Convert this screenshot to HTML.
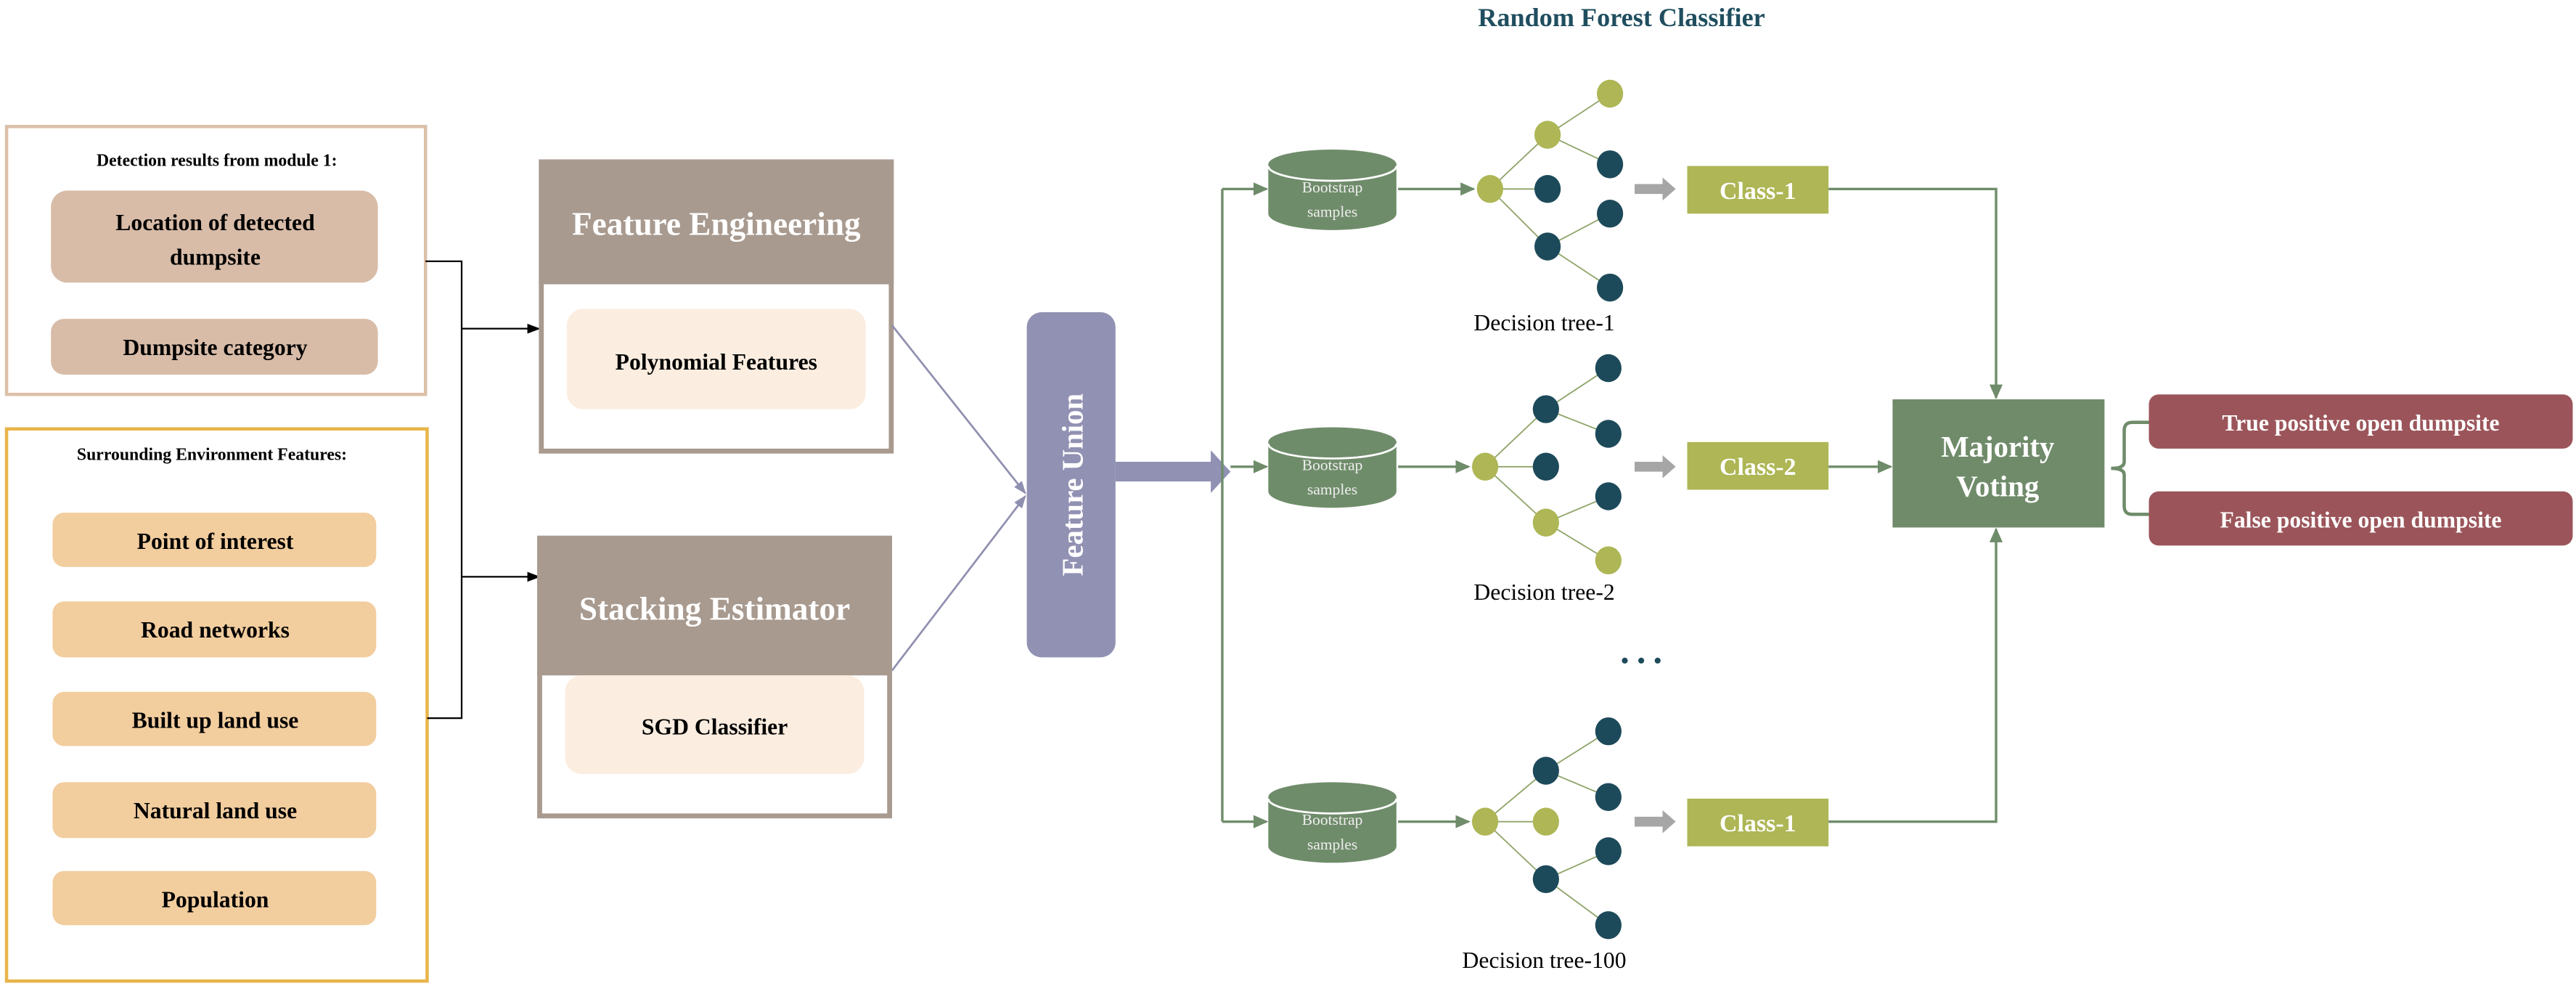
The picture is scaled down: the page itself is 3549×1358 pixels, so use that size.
<!DOCTYPE html>
<html><head><meta charset="utf-8"><style>
html,body{margin:0;padding:0;background:#fff;}
svg{display:block;}
text{font-family:"Liberation Serif",serif;font-weight:bold;}
text.n{font-weight:normal;}
</style></head><body>
<svg width="3549" height="1358" viewBox="0 0 1568 600" preserveAspectRatio="none" xmlns="http://www.w3.org/2000/svg">
<defs>
<marker id="ab" markerWidth="8" markerHeight="8" refX="7" refY="4" orient="auto" markerUnits="userSpaceOnUse"><path d="M0,1 L8,4 L0,7 Z" fill="#000"/></marker>
<marker id="ag" markerWidth="9" markerHeight="9" refX="8" refY="4.5" orient="auto" markerUnits="userSpaceOnUse"><path d="M0,0.5 L9,4.5 L0,8.5 Z" fill="#6f8c6a"/></marker>
<marker id="ap" markerWidth="8" markerHeight="8" refX="7" refY="4" orient="auto" markerUnits="userSpaceOnUse"><path d="M0,1 L8,4 L0,7 Z" fill="#8f8fb0"/></marker>
</defs>
<text x="987" y="16" text-anchor="middle" font-size="16" fill="#1f4e5f">Random Forest Classifier</text>

<rect x="4" y="77" width="255" height="163" fill="#fff" stroke="#dcc0a8" stroke-width="2"/>
<text x="132" y="101" text-anchor="middle" font-size="10.5" fill="#000">Detection results from module 1:</text>
<rect x="31" y="116" width="199" height="56" rx="10" fill="#d8bca8"/>
<text x="131" y="140" text-anchor="middle" font-size="14" fill="#000">Location of detected</text>
<text x="131" y="161" text-anchor="middle" font-size="14" fill="#000">dumpsite</text>
<rect x="31" y="194" width="199" height="34" rx="8" fill="#d8bca8"/>
<text x="131" y="216" text-anchor="middle" font-size="14" fill="#000">Dumpsite category</text>

<rect x="4" y="261" width="256" height="336" fill="#fff" stroke="#e8b54a" stroke-width="2"/>
<text x="129" y="280" text-anchor="middle" font-size="10.5" fill="#000">Surrounding Environment Features:</text>
<g font-size="14" fill="#000" text-anchor="middle">
<rect x="32" y="312" width="197" height="33" rx="7" fill="#f2cd9e"/><text x="131" y="334">Point of interest</text>
<rect x="32" y="366" width="197" height="34" rx="7" fill="#f2cd9e"/><text x="131" y="388">Road networks</text>
<rect x="32" y="421" width="197" height="33" rx="7" fill="#f2cd9e"/><text x="131" y="443">Built up land use</text>
<rect x="32" y="476" width="197" height="34" rx="7" fill="#f2cd9e"/><text x="131" y="498">Natural land  use</text>
<rect x="32" y="530" width="197" height="33" rx="7" fill="#f2cd9e"/><text x="131" y="552">Population</text>
</g>

<path d="M259,159 H281 V437 H260" fill="none" stroke="#000" stroke-width="1"/>
<line x1="281" y1="200" x2="328" y2="200" stroke="#000" stroke-width="1" marker-end="url(#ab)"/>
<line x1="281" y1="351" x2="328" y2="351" stroke="#000" stroke-width="1" marker-end="url(#ab)"/>

<rect x="329.5" y="98.5" width="213" height="176" fill="#fff" stroke="#a89a8f" stroke-width="3"/>
<rect x="328" y="97" width="216" height="76" fill="#a89a8f"/>
<text x="436" y="143" text-anchor="middle" font-size="20" fill="#fff">Feature Engineering</text>
<rect x="345" y="188" width="182" height="61" rx="10" fill="#fbede0"/>
<text x="436" y="225" text-anchor="middle" font-size="14" fill="#000">Polynomial Features</text>

<rect x="328.5" y="327.5" width="213" height="169" fill="#fff" stroke="#a89a8f" stroke-width="3"/>
<rect x="327" y="326" width="216" height="85" fill="#a89a8f"/>
<text x="435" y="377" text-anchor="middle" font-size="20" fill="#fff">Stacking Estimator</text>
<rect x="344" y="411" width="182" height="60" rx="10" fill="#fbede0"/>
<text x="435" y="447" text-anchor="middle" font-size="14" fill="#000">SGD Classifier</text>

<line x1="543" y1="198" x2="624" y2="300" stroke="#8f8fb0" stroke-width="1.2" marker-end="url(#ap)"/>
<line x1="543" y1="408" x2="624" y2="302" stroke="#8f8fb0" stroke-width="1.2" marker-end="url(#ap)"/>

<rect x="625" y="190" width="54" height="210" rx="9" fill="#9191b3"/>
<text x="0" y="0" transform="translate(659,295) rotate(-90)" text-anchor="middle" font-size="18" fill="#fff">Feature Union</text>
<path d="M679,281 H737 V274 L749,287 L737,300 V293 H679 Z" fill="#9191b3"/>

<g stroke="#6f8c6a" stroke-width="1.5" fill="none">
<path d="M744,115 V500"/>
<line x1="744" y1="115" x2="771" y2="115" marker-end="url(#ag)"/>
<line x1="749" y1="284" x2="771" y2="284" marker-end="url(#ag)"/>
<line x1="744" y1="500" x2="771" y2="500" marker-end="url(#ag)"/>
<line x1="851" y1="115" x2="897" y2="115" marker-end="url(#ag)"/>
<line x1="851" y1="284" x2="894" y2="284" marker-end="url(#ag)"/>
<line x1="851" y1="500" x2="894" y2="500" marker-end="url(#ag)"/>
<path d="M1113,115 H1215 V242" marker-end="url(#ag)"/>
<line x1="1113" y1="284" x2="1151" y2="284" marker-end="url(#ag)"/>
<path d="M1113,500 H1215 V322" marker-end="url(#ag)"/>
<path d="M1308,257 H1298 Q1293,257 1293,262 V281 Q1293,285 1285,285 Q1293,285 1293,289 V308 Q1293,313 1298,313 H1308" stroke-width="2"/>
</g>

<g>
<g>
<path d="M772,100 V130 A39,10 0 0 0 850,130 V100 Z" fill="#6f8c6a"/>
<ellipse cx="811" cy="100" rx="39" ry="9" fill="#6f8c6a"/>
<path d="M772,101 A39,9 0 0 0 850,101" fill="none" stroke="#fff" stroke-width="1.2"/>
<text class="n" x="811" y="117" text-anchor="middle" font-size="9.5" fill="#eee">Bootstrap</text>
<text class="n" x="811" y="132" text-anchor="middle" font-size="9.5" fill="#eee">samples</text>
</g>
<g transform="translate(0,169)">
<path d="M772,100 V130 A39,10 0 0 0 850,130 V100 Z" fill="#6f8c6a"/>
<ellipse cx="811" cy="100" rx="39" ry="9" fill="#6f8c6a"/>
<path d="M772,101 A39,9 0 0 0 850,101" fill="none" stroke="#fff" stroke-width="1.2"/>
<text class="n" x="811" y="117" text-anchor="middle" font-size="9.5" fill="#eee">Bootstrap</text>
<text class="n" x="811" y="132" text-anchor="middle" font-size="9.5" fill="#eee">samples</text>
</g>
<g transform="translate(0,385)">
<path d="M772,100 V130 A39,10 0 0 0 850,130 V100 Z" fill="#6f8c6a"/>
<ellipse cx="811" cy="100" rx="39" ry="9" fill="#6f8c6a"/>
<path d="M772,101 A39,9 0 0 0 850,101" fill="none" stroke="#fff" stroke-width="1.2"/>
<text class="n" x="811" y="117" text-anchor="middle" font-size="9.5" fill="#eee">Bootstrap</text>
<text class="n" x="811" y="132" text-anchor="middle" font-size="9.5" fill="#eee">samples</text>
</g>
</g>

<g stroke="#8fa46a" stroke-width="0.8">
<line x1="907" y1="115" x2="942" y2="82"/><line x1="907" y1="115" x2="942" y2="115"/><line x1="907" y1="115" x2="942" y2="150"/>
<line x1="942" y1="82" x2="980" y2="57"/><line x1="942" y1="82" x2="980" y2="100"/><line x1="942" y1="150" x2="980" y2="130"/><line x1="942" y1="150" x2="980" y2="175"/>
<line x1="904" y1="284" x2="941" y2="249"/><line x1="904" y1="284" x2="941" y2="284"/><line x1="904" y1="284" x2="941" y2="318"/>
<line x1="941" y1="249" x2="979" y2="224"/><line x1="941" y1="249" x2="979" y2="264"/><line x1="941" y1="318" x2="979" y2="302"/><line x1="941" y1="318" x2="979" y2="341"/>
<line x1="904" y1="500" x2="941" y2="469"/><line x1="904" y1="500" x2="941" y2="500"/><line x1="904" y1="500" x2="941" y2="535"/>
<line x1="941" y1="469" x2="979" y2="445"/><line x1="941" y1="469" x2="979" y2="485"/><line x1="941" y1="535" x2="979" y2="518"/><line x1="941" y1="535" x2="979" y2="563"/>
</g>
<g>
<ellipse cx="907" cy="115" rx="8" ry="8.5" fill="#aeb655"/><ellipse cx="942" cy="82" rx="8" ry="8.5" fill="#aeb655"/>
<ellipse cx="942" cy="115" rx="8" ry="8.5" fill="#1d4a5a"/><ellipse cx="942" cy="150" rx="8" ry="8.5" fill="#1d4a5a"/>
<ellipse cx="980" cy="57" rx="8" ry="8.5" fill="#aeb655"/><ellipse cx="980" cy="100" rx="8" ry="8.5" fill="#1d4a5a"/>
<ellipse cx="980" cy="130" rx="8" ry="8.5" fill="#1d4a5a"/><ellipse cx="980" cy="175" rx="8" ry="8.5" fill="#1d4a5a"/>
<ellipse cx="904" cy="284" rx="8" ry="8.5" fill="#aeb655"/><ellipse cx="941" cy="249" rx="8" ry="8.5" fill="#1d4a5a"/>
<ellipse cx="941" cy="284" rx="8" ry="8.5" fill="#1d4a5a"/><ellipse cx="941" cy="318" rx="8" ry="8.5" fill="#aeb655"/>
<ellipse cx="979" cy="224" rx="8" ry="8.5" fill="#1d4a5a"/><ellipse cx="979" cy="264" rx="8" ry="8.5" fill="#1d4a5a"/>
<ellipse cx="979" cy="302" rx="8" ry="8.5" fill="#1d4a5a"/><ellipse cx="979" cy="341" rx="8" ry="8.5" fill="#aeb655"/>
<ellipse cx="904" cy="500" rx="8" ry="8.5" fill="#aeb655"/><ellipse cx="941" cy="469" rx="8" ry="8.5" fill="#1d4a5a"/>
<ellipse cx="941" cy="500" rx="8" ry="8.5" fill="#aeb655"/><ellipse cx="941" cy="535" rx="8" ry="8.5" fill="#1d4a5a"/>
<ellipse cx="979" cy="445" rx="8" ry="8.5" fill="#1d4a5a"/><ellipse cx="979" cy="485" rx="8" ry="8.5" fill="#1d4a5a"/>
<ellipse cx="979" cy="518" rx="8" ry="8.5" fill="#1d4a5a"/><ellipse cx="979" cy="563" rx="8" ry="8.5" fill="#1d4a5a"/>
</g>
<g font-size="14" fill="#000" text-anchor="middle">
<text class="n" x="940" y="201">Decision tree-1</text>
<text class="n" x="940" y="365">Decision tree-2</text>
<text class="n" x="940" y="589">Decision tree-100</text>
</g>
<circle cx="989" cy="402" r="1.8" fill="#1d4a5a"/><circle cx="999" cy="402" r="1.8" fill="#1d4a5a"/><circle cx="1009" cy="402" r="1.8" fill="#1d4a5a"/>

<g fill="#a6a6a6">
<path d="M995,112 H1012 V108 L1020,115 L1012,122 V118 H995 Z"/>
<path d="M995,281 H1012 V277 L1020,284 L1012,291 V287 H995 Z"/>
<path d="M995,497 H1012 V493 L1020,500 L1012,507 V503 H995 Z"/>
</g>

<g font-size="15" fill="#fff" text-anchor="middle">
<rect x="1027" y="101" width="86" height="29" fill="#aeb655"/><text x="1070" y="121">Class-1</text>
<rect x="1027" y="269" width="86" height="29" fill="#aeb655"/><text x="1070" y="289">Class-2</text>
<rect x="1027" y="486" width="86" height="29" fill="#aeb655"/><text x="1070" y="506">Class-1</text>
</g>

<rect x="1152" y="243" width="129" height="78" fill="#708b6a"/>
<text x="1216" y="278" text-anchor="middle" font-size="18" fill="#fff">Majority</text>
<text x="1216" y="302" text-anchor="middle" font-size="18" fill="#fff">Voting</text>

<rect x="1308" y="240" width="258" height="33" rx="6" fill="#9b555a"/>
<text x="1437" y="262" text-anchor="middle" font-size="14" fill="#fff">True positive open dumpsite</text>
<rect x="1308" y="299" width="258" height="33" rx="6" fill="#9b555a"/>
<text x="1437" y="321" text-anchor="middle" font-size="14" fill="#fff">False positive open dumpsite</text>
</svg>
</body></html>
